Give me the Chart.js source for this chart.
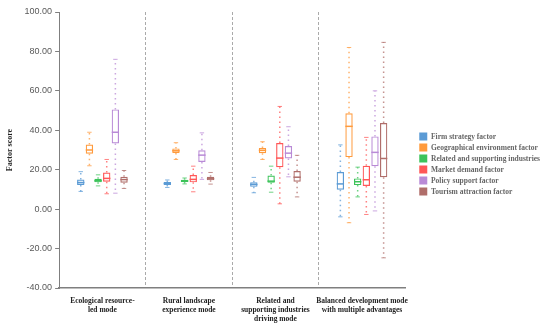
<!DOCTYPE html>
<html>
<head>
<meta charset="utf-8">
<script src="https://cdn.jsdelivr.net/npm/chart.js@4"></script>
<style>
  html, body { margin: 0; padding: 0; background: #fff; }
  #wrap { width: 550px; height: 327px; }
</style>
</head>
<body>
<div id="wrap"><canvas id="chart"></canvas></div>
<script>
// categories (development modes)
const modes = [
  ["Ecological resource-", "led mode"],
  ["Rural landscape", "experience mode"],
  ["Related and", "supporting industries", "driving mode"],
  ["Balanced development mode", "with multiple advantages"]
];

const factors = [
  "Firm strategy factor",
  "Geographical environment factor",
  "Related and supporting industries",
  "Market demand factor",
  "Policy support factor",
  "Tourism attraction factor"
];

const colors = ["#5b9bd5", "#ff9a3c", "#3cc35a", "#ff5757", "#b98ad6", "#b06e6a"];

// [min, q1, median, q3, max] for each mode
const firmStrategy = [[9, 12.3, 13.5, 15, 19], [11, 12.2, 13, 13.8, 14.8], [8.3, 11.3, 12.5, 13.6, 16.1], [-3.9, 9.8, 12.8, 18.8, 32.6]];
const geoEnvironment = [[22, 28.1, 30, 32.8, 39], [25.2, 28.5, 29.6, 30.8, 33.7], [25.2, 28.4, 29.8, 31, 34.2], [-6.9, 26.4, 42, 48.6, 82]];
const relatedIndustries = [[11.8, 13.6, 14.4, 15.4, 17.4], [12.8, 13.8, 14.3, 14.9, 15.8], [8.6, 13.4, 14.2, 17.1, 21.8], [6.2, 12.2, 13.9, 15.6, 21.3]];
const marketDemand = [[7.8, 13.9, 15.6, 18.6, 25.2], [8.8, 13.6, 15.1, 17.3, 21.8], [2.7, 21.3, 25.9, 33.5, 52.1], [-2.7, 11.8, 14.9, 22, 36.4]];
const policySupport = [[8.1, 33.3, 39, 50.6, 76], [15.1, 23.9, 27.4, 29.9, 38.7], [16.4, 25.7, 28.4, 32, 41.8], [-0.9, 21.8, 28.8, 36.9, 60]];
const tourismAttraction = [[10.5, 13.4, 15, 16.4, 19.6], [12.7, 14.6, 15.4, 16.4, 18.6], [6.2, 13.9, 16.2, 19.3, 27.3], [-24.7, 16.2, 25.7, 43.7, 84.6]];

const yTicks = { min: -40, max: 100, step: 20 };

const seriesStats = [firmStrategy, geoEnvironment, relatedIndustries, marketDemand, policySupport, tourismAttraction];

const serif = "'Liberation Serif', 'Times New Roman', serif";

// whiskers and medians, drawn from each bar's own x and the y scale
const boxExtras = {
  id: "boxExtras",
  afterDatasetsDraw(chart) {
    const ctx = chart.ctx;
    const y = chart.scales.y;
    chart.data.datasets.forEach((ds, i) => {
      const meta = chart.getDatasetMeta(i);
      meta.data.forEach((bar, j) => {
        const s = ds.stats[j];
        const x = bar.x;
        const w = bar.width;
        ctx.save();
        ctx.strokeStyle = ds.borderColor;
        // dotted whiskers
        ctx.lineWidth = 1.5;
        ctx.globalAlpha = 0.75;
        ctx.setLineDash([1.5, 3.5]);
        ctx.beginPath();
        ctx.moveTo(x, y.getPixelForValue(s[3]));
        ctx.lineTo(x, y.getPixelForValue(s[4]));
        ctx.moveTo(x, y.getPixelForValue(s[1]));
        ctx.lineTo(x, y.getPixelForValue(s[0]));
        ctx.stroke();
        // caps
        ctx.setLineDash([]);
        ctx.lineWidth = 1;
        ctx.beginPath();
        ctx.moveTo(x - w * 0.3, y.getPixelForValue(s[4]));
        ctx.lineTo(x + w * 0.3, y.getPixelForValue(s[4]));
        ctx.moveTo(x - w * 0.3, y.getPixelForValue(s[0]));
        ctx.lineTo(x + w * 0.3, y.getPixelForValue(s[0]));
        ctx.stroke();
        // median
        ctx.globalAlpha = 1;
        ctx.lineWidth = 1.5;
        ctx.beginPath();
        ctx.moveTo(x - w / 2, y.getPixelForValue(s[2]));
        ctx.lineTo(x + w / 2, y.getPixelForValue(s[2]));
        ctx.stroke();
        ctx.restore();
      });
    });
  }
};

const datasets = factors.map((name, i) => ({
  label: name,
  data: seriesStats[i].map(s => [s[1], s[3]]),
  stats: seriesStats[i],
  backgroundColor: "rgba(255,255,255,0)",
  borderColor: colors[i],
  borderWidth: 1.2,
  borderSkipped: false,
  categoryPercentage: 0.6,
  barPercentage: 0.85
}));

new Chart(document.getElementById("chart"), {
  type: "bar",
  data: { labels: modes, datasets },
  plugins: [boxExtras],
  options: {
    responsive: true,
    maintainAspectRatio: false,
    animation: false,
    layout: { padding: { top: 12, right: 0, left: 5, bottom: 0 } },
    plugins: {
      tooltip: { enabled: false },
      legend: {
        position: "right",
        align: "start",
        maxWidth: 150,
        title: { display: true, text: " ", padding: { top: 108, bottom: 0 }, font: { size: 8 } },
        labels: {
          boxWidth: 8,
          boxHeight: 8,
          padding: 3,
          color: "#222",
          font: { family: serif, size: 7.5, weight: "bold" },
          generateLabels(chart) {
            return chart.data.datasets.map((ds, i) => ({
              text: ds.label,
              fillStyle: colors[i],
              strokeStyle: colors[i],
              lineWidth: 0,
              datasetIndex: i
            }));
          }
        }
      }
    },
    scales: {
      x: {
        afterFit: scale => { scale.height = 39; },
        grid: {
          offset: true,
          drawTicks: false,
          color: ctx => (ctx.index > 0 && ctx.index < modes.length) ? "#aaaaaa" : "rgba(0,0,0,0)",
          lineWidth: 1
        },
        border: { display: true, color: "#7f7f7f", width: 1.5, dash: [3, 2] },
        ticks: {
          color: "#222",
          padding: 9,
          maxRotation: 0,
          autoSkip: false,
          font: { family: serif, size: 7.5, weight: "bold", lineHeight: 1.2 }
        }
      },
      y: {
        min: yTicks.min,
        max: yTicks.max,
        ticks: {
          stepSize: yTicks.step,
          color: "#595959",
          padding: 3,
          font: { family: "'Liberation Sans', Arial, sans-serif", size: 9 },
          callback: v => v.toFixed(2)
        },
        grid: { drawOnChartArea: false, tickLength: 4, color: "#7f7f7f" },
        border: { display: true, color: "#7f7f7f", width: 1 },
        title: {
          display: true,
          text: "Factor score",
          color: "#222",
          padding: { top: 0, bottom: 7 },
          font: { family: serif, size: 8, weight: "bold" }
        }
      },
      // empty spacer between the plot and the legend
      gap: {
        type: "linear",
        position: "right",
        display: true,
        afterFit: scale => { scale.width = 11; },
        ticks: { display: false },
        grid: { display: false },
        border: { display: false }
      }
    }
  }
});
</script>
</body>
</html>
